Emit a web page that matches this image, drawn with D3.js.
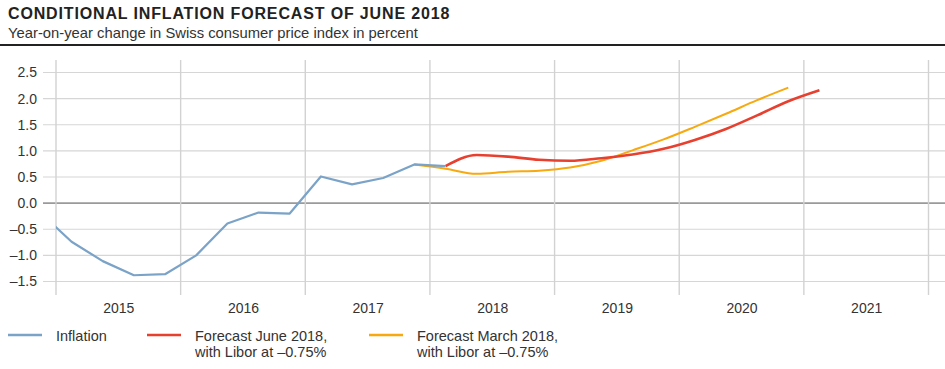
<!DOCTYPE html>
<html>
<head>
<meta charset="utf-8">
<script src="https://cdn.jsdelivr.net/npm/d3@7"></script>
<style>
  body { margin: 0; background: #fff; }
  svg { display: block; font-family: "Liberation Sans", Arial, sans-serif; }
</style>
</head>
<body>
<div class="graphHold"></div>
<script>
/*** DATA ***/
let years = [2015, 2016, 2017, 2018, 2019, 2020, 2021];
let yTicks = [-1.5, -1.0, -0.5, 0.0, 0.5, 1.0, 1.5, 2.0, 2.5];

let inflationQuarters = ['2014Q4', '2015Q1', '2015Q2', '2015Q3', '2015Q4', '2016Q1', '2016Q2',
  '2016Q3', '2016Q4', '2017Q1', '2017Q2', '2017Q3', '2017Q4', '2018Q1'];
let inflation = [-0.18, -0.74, -1.11, -1.38, -1.36, -1.00, -0.39, -0.18, -0.20, 0.51, 0.36, 0.48, 0.74, 0.71];

let juneQuarters = ['2018Q1', '2018Q2', '2018Q3', '2018Q4', '2019Q1', '2019Q2', '2019Q3',
  '2019Q4', '2020Q1', '2020Q2', '2020Q3', '2020Q4', '2021Q1'];
let forecastJune = [0.71, 0.92, 0.89, 0.83, 0.81, 0.86, 0.93, 1.04, 1.21, 1.42, 1.68, 1.95, 2.16];

let marchQuarters = ['2017Q4', '2018Q1', '2018Q2', '2018Q3', '2018Q4', '2019Q1', '2019Q2',
  '2019Q3', '2019Q4', '2020Q1', '2020Q2', '2020Q3', '2020Q4'];
let forecastMarch = [0.74, 0.66, 0.56, 0.60, 0.62, 0.68, 0.81, 1.01, 1.22, 1.46, 1.71, 1.97, 2.21];

/*** GRAPH ***/
let width = 945,
    height = 369;

let svg = d3.select('.graphHold').append('svg')
  .attr('width', width)
  .attr('height', height);

/* trimestre -> position en années (milieu du trimestre) */
let qPos = (q) => +q.substring(0, 4) + (+q.substring(5) - 0.5) / 4;

let x = d3.scaleLinear().domain([2015, 2022]).range([56, 928.5]);
let y = d3.scaleLinear().domain([-1.5, 2.5]).range([281.5, 72.5]);

/* titre */
svg.append('text')
  .attr('x', 8).attr('y', 18.5)
  .style('font-size', '16px').style('font-weight', 'bold').style('fill', '#222')
  .style('letter-spacing', '0.85px')
  .text('CONDITIONAL INFLATION FORECAST OF JUNE 2018');
svg.append('text')
  .attr('x', 8).attr('y', 37.5)
  .style('font-size', '14.8px').style('fill', '#333')
  .text('Year-on-year change in Swiss consumer price index in percent');
svg.append('line')
  .attr('x1', 0).attr('x2', width).attr('y1', 45).attr('y2', 45)
  .style('stroke', '#222').style('stroke-width', 2.2);

/* grille horizontale */
svg.append('g').selectAll('line')
  .data(yTicks).enter().append('line')
  .attr('x1', 43).attr('x2', width)
  .attr('y1', (d) => y(d)).attr('y2', (d) => y(d))
  .style('stroke', (d) => d === 0 ? '#9a9a9a' : '#d6d6d6')
  .style('stroke-width', (d) => d === 0 ? 1.6 : 1.2);

/* grille verticale */
svg.append('g').selectAll('line')
  .data(d3.range(2015, 2023)).enter().append('line')
  .attr('x1', (d) => x(d)).attr('x2', (d) => x(d))
  .attr('y1', 60).attr('y2', 295)
  .style('stroke', '#d2d2d2').style('stroke-width', 1.4);

/* axe Y */
let fmt = (d) => (d < 0 ? '\u2013' : '') + Math.abs(d).toFixed(1);
let yAxis = svg.append('g')
  .attr('transform', 'translate(37, 0)')
  .call(d3.axisLeft(y).tickValues(yTicks).tickSize(0).tickPadding(0).tickFormat(fmt));
yAxis.select('.domain').remove();
yAxis.selectAll('text')
  .style('font-size', '14px').style('fill', '#333')
  .style('font-family', '"Liberation Sans", Arial, sans-serif');

/* axe X : libellés au milieu de l'année */
let xAxis = svg.append('g')
  .attr('transform', 'translate(0, 303)')
  .call(d3.axisBottom(x).tickValues(years.map((d) => d + 0.5)).tickSize(0).tickPadding(0)
    .tickFormat((d) => Math.floor(d)));
xAxis.select('.domain').remove();
xAxis.selectAll('text')
  .attr('dy', '0.71em')
  .style('font-size', '14px').style('fill', '#333')
  .style('font-family', '"Liberation Sans", Arial, sans-serif');

/* courbes */
svg.append('clipPath').attr('id', 'plot')
  .append('rect')
  .attr('x', x(2015)).attr('y', 50)
  .attr('width', x(2022) - x(2015)).attr('height', 250);

let series = [
  { q: marchQuarters, v: forecastMarch, color: '#f7a90f', w: 2, curve: d3.curveMonotoneX },
  { q: juneQuarters, v: forecastJune, color: '#e8402f', w: 2.6, curve: d3.curveMonotoneX },
  { q: inflationQuarters, v: inflation, color: '#7ba3c8', w: 2.2, curve: d3.curveLinear }
];

let lines = svg.append('g').attr('clip-path', 'url(#plot)');
series.forEach((s) => {
  let line = d3.line()
    .x((d, i) => x(qPos(s.q[i])))
    .y((d) => y(d))
    .curve(s.curve);
  lines.append('path')
    .datum(s.v)
    .attr('d', line)
    .style('fill', 'none')
    .style('stroke', s.color)
    .style('stroke-width', s.w)
    .style('stroke-linejoin', 'round');
});

/* légende */
let legend = [
  { label: ['Inflation'], color: '#7ba3c8', x: 8 },
  { label: ['Forecast June 2018,', 'with Libor at \u20130.75%'], color: '#e8402f', x: 147 },
  { label: ['Forecast March 2018,', 'with Libor at \u20130.75%'], color: '#f7a90f', x: 369 }
];
let lg = svg.append('g').selectAll('g')
  .data(legend).enter().append('g')
  .attr('transform', (d) => 'translate(' + d.x + ', 335)');
lg.append('line')
  .attr('x1', 0).attr('x2', 34).attr('y1', 0).attr('y2', 0)
  .style('stroke', (d) => d.color).style('stroke-width', 2.4);
lg.append('text')
  .attr('x', 48).attr('y', 5.5)
  .style('font-size', '14.5px').style('fill', '#333')
  .selectAll('tspan')
  .data((d) => d.label).enter().append('tspan')
  .attr('x', 48).attr('dy', (d, i) => i === 0 ? 0 : 16.5)
  .text((d) => d);
</script>
</body>
</html>
